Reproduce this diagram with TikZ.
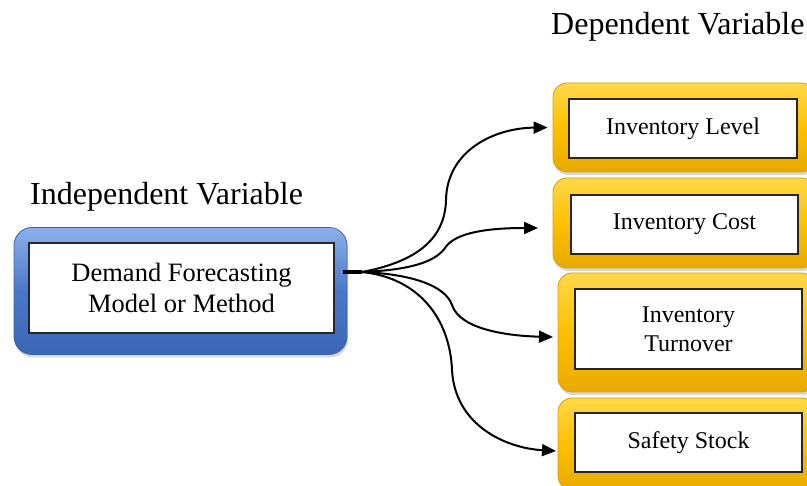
\documentclass[tikz,border=0pt]{standalone}
\usepackage{fontspec}
\setmainfont{Liberation Serif}
\usetikzlibrary{arrows.meta,shadows}
\definecolor{blueTop}{HTML}{8DB0EC}
\definecolor{blueMid}{HTML}{4A78C8}
\definecolor{blueBot}{HTML}{3A66B4}
\definecolor{blueEdge}{HTML}{3C64AA}
\definecolor{yelTop}{HTML}{FFD84A}
\definecolor{yelMid}{HTML}{FFC000}
\definecolor{yelBot}{HTML}{E8AA00}
\definecolor{yelEdge}{HTML}{D9A000}
\begin{document}
\begin{tikzpicture}[x=1pt,y=-1pt,
  blueouter/.style={rectangle, rounded corners=18pt, minimum width=333pt, minimum height=127pt,
    top color=blueTop, bottom color=blueBot, middle color=blueMid, draw=blueEdge, line width=0.8pt,
    drop shadow={shadow xshift=1pt, shadow yshift=-3pt, opacity=0.3}},
  yelouter/.style={rectangle, rounded corners=14pt, top color=yelTop, bottom color=yelBot, middle color=yelMid,
    draw=yelEdge, line width=0.8pt, drop shadow={shadow xshift=1pt, shadow yshift=-3pt, opacity=0.3}},
  innerbox/.style={rectangle, draw=black!85, line width=1.2pt, fill=white, align=center, inner sep=0pt},
  titletext/.style={font=\fontsize{32}{38}\selectfont, inner sep=0pt},
  conn/.style={line width=2pt, -{Triangle[length=14pt,width=12pt]}}
]
\useasboundingbox (0,0) rectangle (807,486);
\clip (0,0) rectangle (807,486);
\fill[white] (0,0) rectangle (807,486);

% titles
\node[titletext, anchor=base west] (indep) at (30,205) {Independent Variable};
\node[titletext, anchor=base west] (dep) at (551,35) {Dependent Variable};

% independent box
\node[blueouter] (srcouter) at (180.5,291) {};
\node[innerbox, minimum width=305pt, minimum height=90pt,
  font=\fontsize{26.5}{31}\selectfont] (src) at (181.5,288) {Demand Forecasting\\Model or Method};

% dependent boxes
\node[yelouter, minimum width=262pt, minimum height=89pt] (o1) at (684,127.5) {};
\node[innerbox, minimum width=228pt, minimum height=59pt, font=\fontsize{24}{29}\selectfont] (d1) at (683,128.5) {Inventory Level};

\node[yelouter, minimum width=262pt, minimum height=90pt] (o2) at (684,223) {};
\node[innerbox, minimum width=227pt, minimum height=59pt, font=\fontsize{24}{29}\selectfont] (d2) at (684.5,224.5) {Inventory Cost};

\node[yelouter, minimum width=257pt, minimum height=119pt] (o3) at (686.5,332.5) {};
\node[innerbox, minimum width=227pt, minimum height=80pt, font=\fontsize{24}{29}\selectfont] (d3) at (688.5,329) {Inventory\\Turnover};

\node[yelouter, minimum width=257pt, minimum height=92pt] (o4) at (686.5,444) {};
\node[innerbox, minimum width=227pt, minimum height=59pt, font=\fontsize{24}{29}\selectfont] (d4) at (688.5,442.5) {Safety Stock};

% connectors
\coordinate (s) at (343,272);
\coordinate (fan) at (362,272);
\coordinate (t1) at ([xshift=-5pt]o1.west);
\coordinate (t2) at (538,228);
\coordinate (t3) at (553,337);
\coordinate (t4) at (556,451);

\draw[line width=4pt] (s) -- (fan);
\draw[conn] (fan) .. controls (415,262) and (445,240) .. (446,200) .. controls (447,150) and (495,128) .. (t1);
\draw[conn] (fan) .. controls (410,270) and (435,262) .. (445,248) .. controls (455,232) and (490,228) .. (t2);
\draw[conn] (fan) .. controls (410,274) and (445,285) .. (452,305) .. controls (460,330) and (510,336) .. (t3);
\draw[conn] (fan) .. controls (420,278) and (450,320) .. (452,370) .. controls (455,425) and (505,448) .. (t4);
\end{tikzpicture}
\end{document}
